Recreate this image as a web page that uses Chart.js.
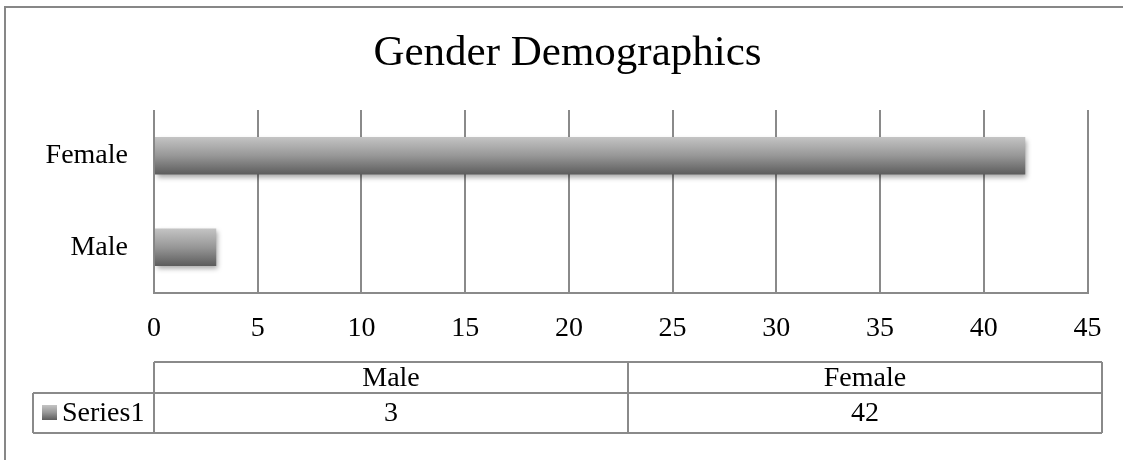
<!DOCTYPE html>
<html>
<head>
<meta charset="utf-8">
<script src="https://cdn.jsdelivr.net/npm/chart.js@4/dist/chart.umd.min.js"></script>
<style>
html,body{margin:0;padding:0;background:#fff;}
#wrap{position:relative;width:1123px;height:460px;}
</style>
</head>
<body>
<div id="wrap"><canvas id="c" width="1123" height="460"></canvas></div>
<script>
const categories = ['Male', 'Female'];
const seriesName = 'Series1';
const seriesValues = [3, 42];
const xTickMin = 0, xTickMax = 45, xTickStep = 5;
const titleText = 'Gender Demographics';

const FONT = "'Liberation Serif', 'Times New Roman', serif";
const LINE = '#8a8a8a';

function barGradient(ctx, top, bottom) {
  const g = ctx.createLinearGradient(0, top, 0, bottom);
  g.addColorStop(0, '#c4c4c4');
  g.addColorStop(0.5, '#979797');
  g.addColorStop(1, '#5c5c5c');
  return g;
}

const decor = {
  id: 'decor',
  beforeDraw(chart) {
    const ctx = chart.ctx;
    ctx.save();
    ctx.fillStyle = '#fff';
    ctx.fillRect(0, 0, chart.width, chart.height);
    ctx.strokeStyle = '#878787';
    ctx.lineWidth = 2;
    ctx.strokeRect(5, 7, 1400, 800);
    ctx.restore();
  },
  beforeDatasetsDraw(chart) {
    const ctx = chart.ctx;
    ctx.save();
    ctx.shadowColor = 'rgba(0,0,0,0.35)';
    ctx.shadowBlur = 5;
    ctx.shadowOffsetX = 2;
    ctx.shadowOffsetY = 3;
  },
  afterDatasetsDraw(chart) {
    chart.ctx.restore();
  },
  afterDraw(chart) {
    const ctx = chart.ctx;
    const ca = chart.chartArea;
    const labels = chart.data.labels;
    const ds = chart.data.datasets[0];
    const x0 = ca.left, x1 = 1102, xl = 33;
    const r0 = 362, r1 = 393, r2 = 433;
    const n = labels.length;
    const cw = (x1 - x0) / n;
    ctx.save();
    ctx.strokeStyle = LINE;
    ctx.lineWidth = 2;
    ctx.beginPath();
    ctx.moveTo(x0, r0); ctx.lineTo(x1, r0);
    ctx.moveTo(xl, r1); ctx.lineTo(x1, r1);
    ctx.moveTo(xl, r2); ctx.lineTo(x1, r2);
    ctx.moveTo(xl, r1); ctx.lineTo(xl, r2);
    for (let i = 0; i <= n; i++) {
      const x = x0 + i * cw;
      ctx.moveTo(x, r0); ctx.lineTo(x, r2);
    }
    ctx.stroke();
    ctx.fillStyle = '#000';
    ctx.font = '28px ' + FONT;
    ctx.textAlign = 'center';
    ctx.textBaseline = 'middle';
    for (let i = 0; i < n; i++) {
      const cx = x0 + (i + 0.5) * cw;
      ctx.fillText(labels[i], cx, (r0 + r1) / 2 + 1);
      ctx.fillText(String(ds.data[i]), cx, (r1 + r2) / 2 + 1);
    }
    ctx.fillStyle = barGradient(ctx, 405, 420);
    ctx.fillRect(42, 405, 15, 15);
    ctx.fillStyle = '#000';
    ctx.textAlign = 'left';
    ctx.fillText(ds.label, 62, (r1 + r2) / 2 + 1);
    ctx.restore();
  }
};

new Chart(document.getElementById('c'), {
  type: 'bar',
  data: {
    labels: categories,
    datasets: [{
      label: seriesName,
      data: seriesValues,
      barPercentage: 0.41,
      categoryPercentage: 1.0,
      borderWidth: 0,
      backgroundColor(c) {
        const chart = c.chart;
        const ys = chart.scales && chart.scales.y;
        if (!ys || !chart.chartArea) return '#979797';
        const cy = ys.getPixelForValue(c.dataIndex);
        const h = (ys.height / categories.length) * 0.41;
        return barGradient(chart.ctx, cy - h / 2, cy + h / 2);
      }
    }]
  },
  options: {
    indexAxis: 'y',
    responsive: false,
    animation: false,
    events: [],
    layout: { padding: { left: 12, right: 0, top: 0, bottom: 0 } },
    plugins: {
      legend: { display: false },
      tooltip: { enabled: false },
      title: {
        display: true,
        text: titleText,
        color: '#000',
        font: { family: FONT, size: 43, weight: 'normal', lineHeight: 1.2 },
        padding: { top: 28, bottom: 30.4 }
      }
    },
    scales: {
      x: {
        type: 'linear',
        min: xTickMin,
        max: xTickMax,
        ticks: {
          stepSize: xTickStep,
          color: '#000',
          font: { family: FONT, size: 28 },
          padding: 19
        },
        grid: { color: LINE, lineWidth: 2, drawTicks: false },
        border: { color: LINE, width: 2 },
        afterFit(s) { s.height = 167; }
      },
      y: {
        type: 'category',
        reverse: true,
        ticks: {
          color: '#000',
          font: { family: FONT, size: 28 },
          padding: 26
        },
        grid: { display: false, drawTicks: false },
        border: { display: false },
        afterFit(s) { s.width = 142; }
      },
      y2: {
        type: 'linear',
        position: 'right',
        display: true,
        ticks: { display: false },
        grid: { display: false, drawTicks: false },
        border: { display: false },
        afterFit(s) { s.width = 35.5; }
      }
    }
  },
  plugins: [decor]
});
</script>
</body>
</html>
